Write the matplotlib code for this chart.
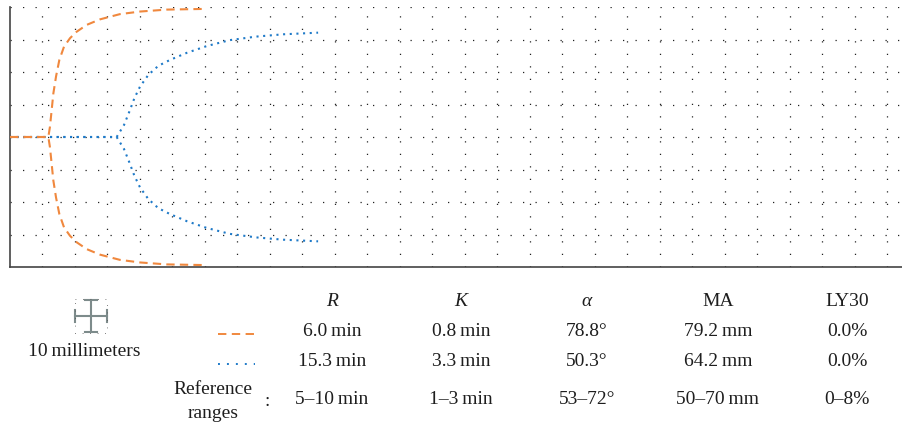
import numpy as np
import matplotlib
matplotlib.use("Agg")
import matplotlib.pyplot as plt
from matplotlib.lines import Line2D

# thromboelastography traces: time (min) vs half amplitude (mm)
orange_t = [0, 5.9, 6.15, 6.41, 6.67, 7.08, 7.59, 8.31, 9.23, 10.26, 11.8, 13.85, 16.9, 20.0, 24.1, 29.7]
orange_a = [0, 0, 3.2, 8.3, 13.4, 18.6, 23.7, 27.8, 30.4, 32.4, 34.5, 36.2, 37.8, 38.6, 39.2, 39.4]

blue_t = [0, 16.41, 17.54, 18.36, 19.13, 20.0, 21.28, 22.82, 24.6, 27.2, 30.3, 33.8, 37.9, 42.05, 47.4]
blue_a = [0, 0, 3.7, 7.8, 11.9, 15.5, 19.1, 21.9, 23.7, 25.9, 28.0, 29.8, 30.9, 31.6, 32.1]

# table below the chart
headers = ["R", "K", "α", "MA", "LY30"]
header_italic = [True, True, True, False, False]
row_orange = ["6.0\u2009min", "0.8\u2009min", "78.8°", "79.2\u2009mm", "0.0%"]
row_blue = ["15.3\u2009min", "3.3\u2009min", "50.3°", "64.2\u2009mm", "0.0%"]
row_ref = ["5–10\u2009min", "1–3\u2009min", "53–72°", "50–70\u2009mm", "0–8%"]

ORANGE = "#f0883e"
BLUE = "#1f7ac8"
W, H = 903, 425
FONT = ["Liberation Serif", "DejaVu Serif"]
FS = 14
TXT = "#1e1e1e"

fig = plt.figure(figsize=(W / 100, H / 100), dpi=100)


def fx(px):
    return px / W


def fy(py):
    return 1 - py / H


ax = fig.add_axes([fx(10), fy(267), fx(893), 260 / H])
ax.set_xlim(0, 893 / 6.5)
ax.set_ylim(-40, 40)

# dotted grid: 5 min by 10 mm
for t in np.arange(5, 893 / 6.5, 5):
    ax.axvline(t, color="#222222", lw=0.9, ls=(0, (1, 9)), zorder=0)
for a in np.arange(-30, 41, 10):
    ax.axhline(a, color="#222222", lw=0.9, ls=(0, (1, 9)), zorder=0)

bt = np.array(blue_t)
ba = np.array(blue_a)
ot = np.array(orange_t)
oa = np.array(orange_a)
ax.plot(bt, ba, color=BLUE, lw=1.5, ls=(0, (1, 2.2)), zorder=2)
ax.plot(bt, -ba, color=BLUE, lw=1.5, ls=(0, (1, 2.2)), zorder=2)
ax.plot(ot, oa, color=ORANGE, lw=1.5, ls=(0, (4, 2.5)), zorder=3)
ax.plot(ot, -oa, color=ORANGE, lw=1.5, ls=(0, (4, 2.5)), zorder=3)

for s in ["top", "right"]:
    ax.spines[s].set_visible(False)
for s in ["left", "bottom"]:
    ax.spines[s].set_color("#444444")
    ax.spines[s].set_linewidth(1.2)
ax.set_xticks([])
ax.set_yticks([])

# scale icon (10 mm cross)
icon = fig.add_axes([fx(73), fy(334), fx(36), 36 / H])
icon.set_xlim(-18, 18)
icon.set_ylim(-18, 18)
icon.axis("off")
gray = "#7d8b8b"
icon.plot([0, 0], [-16, 16], color=gray, lw=1.5)
icon.plot([-16, 16], [0, 0], color=gray, lw=1.5)
icon.plot([-6, 6], [16, 16], color=gray, lw=1.5)
icon.plot([-6, 6], [-16, -16], color=gray, lw=1.5)
icon.plot([-16, -16], [-6, 6], color=gray, lw=1.5)
icon.plot([16, 16], [-6, 6], color=gray, lw=1.5)
icon.plot([-16, 16, 16, -16, -16], [17, 17, -17, -17, 17], color="#555555",
          lw=0.6, ls=(0, (1, 8)))

fig.text(fx(84), fy(351), "10\u2009millimeters", ha="center", va="center",
         fontsize=FS, family=FONT, color=TXT)

# legend samples
fig.add_artist(Line2D([fx(218), fx(255)], [fy(334), fy(334)], color=ORANGE,
                      lw=1.4, ls=(0, (4.3, 2.8))))
fig.add_artist(Line2D([fx(218), fx(255)], [fy(364), fy(364)], color=BLUE,
                      lw=1.4, ls=(0, (1, 3.6))))

col_x = [332, 461, 587, 718, 847]
for i, x in enumerate(col_x):
    fig.text(fx(x), fy(302), headers[i], ha="center", va="center", fontsize=FS,
             family=FONT, style="italic" if header_italic[i] else "normal",
             color=TXT)
    fig.text(fx(x), fy(332), row_orange[i], ha="center", va="center",
             fontsize=FS, family=FONT, color=TXT)
    fig.text(fx(x), fy(362), row_blue[i], ha="center", va="center",
             fontsize=FS, family=FONT, color=TXT)
    fig.text(fx(x), fy(400), row_ref[i], ha="center", va="center",
             fontsize=FS, family=FONT, color=TXT)

fig.text(fx(213), fy(389), "Reference", ha="center", va="center", fontsize=FS,
         family=FONT, color=TXT)
fig.text(fx(213), fy(413), "ranges", ha="center", va="center", fontsize=FS,
         family=FONT, color=TXT)
fig.text(fx(267), fy(401), ":", ha="center", va="center", fontsize=FS,
         family=FONT, color=TXT)

fig.savefig("out.png", dpi=100)
